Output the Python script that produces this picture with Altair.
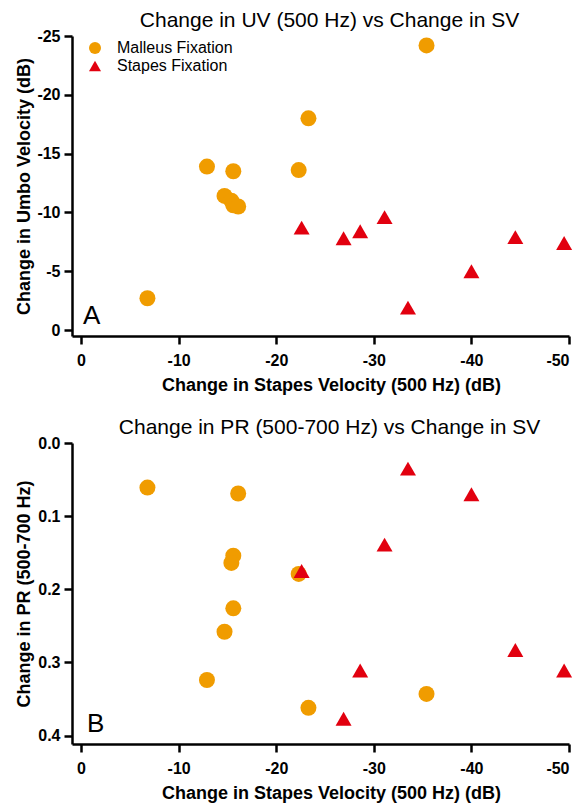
import altair as alt
import pandas as pd

# ---- data ----
groups = ["Malleus Fixation", "Stapes Fixation"]

malleus_sv = [-35.4, -23.3, -12.9, -15.6, -22.3, -14.7, -15.4, -15.6, -16.1, -6.8]
malleus_uv = [-24.2, -18.0, -13.9, -13.5, -13.6, -11.4, -11.0, -10.6, -10.5, -2.7]
malleus_pr = [0.343, 0.362, 0.324, 0.154, 0.179, 0.258, 0.164, 0.226, 0.069, 0.061]

stapes_sv = [-22.6, -26.9, -28.6, -31.1, -33.5, -40.0, -44.5, -49.5]
stapes_uv = [-8.7, -7.8, -8.4, -9.6, -1.9, -5.0, -7.9, -7.4]
stapes_pr = [0.175, 0.377, 0.311, 0.139, 0.035, 0.070, 0.283, 0.311]

x_ticks = [0, -10, -20, -30, -40, -50]
uv_ticks = [0, -5, -10, -15, -20, -25]
pr_ticks = [0.0, 0.1, 0.2, 0.3, 0.4]

panel_labels = ["A", "B"]
panel_titles = ["Change in UV (500 Hz) vs Change in SV",
                "Change in PR (500-700 Hz) vs Change in SV"]
x_title = "Change in Stapes Velocity (500 Hz) (dB)"
y_titles = ["Change in Umbo Velocity (dB)", "Change in PR (500-700 Hz)"]

colors = ["#F09C00", "#E2000F"]
shapes = ["circle", "triangle-up"]

df = pd.DataFrame({
    "sv": malleus_sv + stapes_sv,
    "uv": malleus_uv + stapes_uv,
    "pr": malleus_pr + stapes_pr,
    "group": [groups[0]] * len(malleus_sv) + [groups[1]] * len(stapes_sv),
})

FONT = "Liberation Sans"
W, H = 497, 300

x_enc = alt.X(
    "sv:Q",
    scale=alt.Scale(domain=[-50, 0.93], reverse=True, nice=False, zero=False),
    axis=alt.Axis(values=x_ticks, labelExpr="toString(datum.value)",
                  title=x_title, titleX=259, titleAlign="center",
                  titlePadding=8, labelPadding=8),
)


def legend_spec():
    return alt.Legend(orient="none", legendX=15, legendY=4, title=None,
                      symbolSize=144, labelFontSize=16, labelFont=FONT,
                      labelColor="black", padding=0, rowPadding=2,
                      labelOffset=14, symbolOpacity=1, symbolStrokeWidth=0)


def panel(ycol, yscale, yaxis, title, label, label_x, show_legend, height):
    pts = alt.Chart(df).mark_point(filled=True, opacity=1, size=256, strokeWidth=0).encode(
        x=x_enc,
        y=alt.Y(ycol, scale=yscale, axis=yaxis),
        color=alt.Color("group:N", scale=alt.Scale(domain=groups, range=colors),
                        legend=legend_spec() if show_legend else None),
        shape=alt.Shape("group:N", scale=alt.Scale(domain=groups, range=shapes),
                        legend=legend_spec() if show_legend else None),
    )
    txt = alt.Chart(pd.DataFrame({"label": [label]})).mark_text(
        align="left", baseline="alphabetic", fontSize=26, font=FONT, color="black"
    ).encode(text="label:N", x=alt.value(label_x), y=alt.value(height - 12))
    return alt.layer(pts, txt).properties(
        width=W, height=height,
        title=alt.TitleParams(title, font=FONT, fontSize=21, fontWeight="normal",
                              color="black", frame="group", anchor="middle",
                              baseline="alphabetic", offset=-20, dx=9),
    )


common_y = dict(tickSize=8, labelPadding=4, minExtent=35, maxExtent=35, titlePadding=4)

pa = panel(
    "uv:Q",
    alt.Scale(domain=[-25, 0.51], reverse=True, nice=False, zero=False),
    alt.Axis(values=uv_ticks, labelExpr="toString(datum.value)", title=y_titles[0], **common_y),
    panel_titles[0], panel_labels[0], 11, True, H,
)
pb = panel(
    "pr:Q",
    alt.Scale(domain=[0, 0.4115], reverse=True, nice=False, zero=False),
    alt.Axis(values=pr_ticks, format=".1f", title=y_titles[1], **common_y),
    panel_titles[1], panel_labels[1], 15, False, 301,
)

chart = alt.vconcat(pa, pb, spacing=23).resolve_scale(
    color="independent", shape="independent"
).properties(
    padding={"left": 7, "top": 2, "right": 0, "bottom": 2}
).configure_view(stroke=None).configure_axis(
    grid=False, domainColor="black", domainWidth=2.5, tickColor="black",
    tickWidth=2.5, tickSize=8, labelFont=FONT, labelFontWeight="bold",
    labelFontSize=16, labelColor="black", titleFont=FONT, titleFontWeight="bold",
    titleFontSize=18, titleColor="black",
)

chart.save("out.html", embed_options={"renderer": "svg", "actions": False})
